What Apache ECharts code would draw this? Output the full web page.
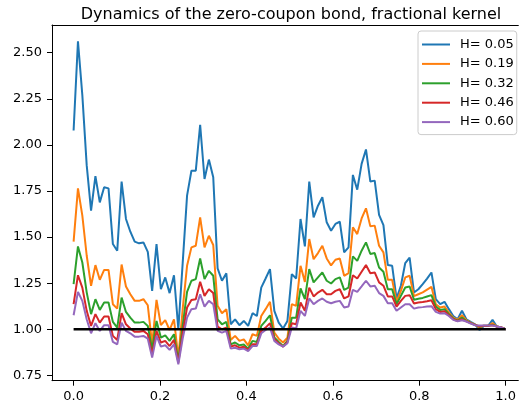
<!DOCTYPE html>
<html>
<head>
<meta charset="utf-8">
<script src="https://cdn.jsdelivr.net/npm/echarts@6/dist/echarts.min.js"></script>
<style>html,body{margin:0;padding:0;background:#fff}#c{width:519px;height:407px}</style>
</head>
<body>
<div id="c"></div>
<script>
const chartTitle = "Dynamics of the zero-coupon bond, fractional kernel";
const seriesNames = ["H= 0.05", "H= 0.19", "H= 0.32", "H= 0.46", "H= 0.60"];
const seriesColors = ["#1f77b4", "#ff7f0e", "#2ca02c", "#d62728", "#9467bd"];
const xTickValues = [0, 0.2, 0.4, 0.6, 0.8, 1.0];
const yTickValues = [0.75, 1.0, 1.25, 1.5, 1.75, 2.0, 2.25, 2.5];

const timeGrid = [0,0.0101,0.0202,0.0303,0.0404,0.0505,0.0606,0.0707,0.0808,0.0909,
0.1010,0.1111,0.1212,0.1313,0.1414,0.1515,0.1616,0.1717,0.1818,0.1919,
0.2020,0.2121,0.2222,0.2323,0.2424,0.2525,0.2626,0.2727,0.2828,0.2929,
0.3030,0.3131,0.3232,0.3333,0.3434,0.3535,0.3636,0.3737,0.3838,0.3939,
0.4040,0.4141,0.4242,0.4343,0.4444,0.4545,0.4646,0.4747,0.4848,0.4949,
0.5050,0.5151,0.5252,0.5353,0.5454,0.5555,0.5656,0.5757,0.5858,0.5959,
0.6060,0.6161,0.6262,0.6363,0.6464,0.6565,0.6666,0.6767,0.6868,0.6969,
0.7070,0.7171,0.7272,0.7373,0.7474,0.7575,0.7676,0.7777,0.7878,0.7979,
0.8080,0.8181,0.8282,0.8383,0.8484,0.8585,0.8686,0.8787,0.8888,0.8989,
0.9090,0.9191,0.9292,0.9393,0.9494,0.9595,0.9696,0.9797,0.9898,1];

const bondH005 = [2.078,2.562,2.27,1.89,1.643,1.830,1.688,1.770,1.764,1.462,
1.426,1.801,1.598,1.529,1.475,1.466,1.471,1.420,1.208,1.462,
1.217,1.281,1.196,1.293,1.0,1.36,1.725,1.86,1.86,2.109,
1.815,1.92,1.824,1.33,1.263,1.303,1.027,1.054,1.022,1.045,
1.018,1.087,1.072,1.226,1.275,1.326,1.1,1.036,1.004,1.045,
1.299,1.275,1.598,1.449,1.801,1.607,1.67,1.716,1.58,1.534,
1.571,1.583,1.417,1.444,1.837,1.757,1.897,1.975,1.801,1.806,
1.62,1.565,1.348,1.344,1.167,1.236,1.359,1.389,1.199,1.217,
1.245,1.275,1.308,1.163,1.136,1.149,1.109,1.072,1.054,1.1,
1.054,1.04,1.027,0.996,1.018,1.018,1.051,1.014,1.009,1.0];

const bondH019 = [1.475,1.764,1.616,1.40,1.236,1.348,1.268,1.322,1.322,1.136,
1.112,1.351,1.232,1.19,1.154,1.154,1.163,1.13,0.918,1.159,
1.022,1.05,0.996,1.054,0.846,1.11,1.344,1.444,1.453,1.607,
1.444,1.507,1.457,1.127,1.087,1.109,0.942,0.964,0.937,0.945,
0.913,0.973,0.964,1.072,1.109,1.149,0.982,0.949,0.928,0.955,
1.136,1.127,1.344,1.257,1.489,1.38,1.413,1.453,1.384,1.346,
1.377,1.384,1.29,1.304,1.553,1.516,1.601,1.656,1.558,1.562,
1.453,1.417,1.268,1.268,1.149,1.208,1.281,1.29,1.18,1.19,
1.20,1.215,1.23,1.136,1.118,1.123,1.09,1.063,1.051,1.076,
1.049,1.036,1.025,1.009,1.018,1.018,1.033,1.015,1.01,1.0];

const bondH032 = [1.245,1.449,1.362,1.2,1.082,1.163,1.105,1.145,1.145,1.04,
1.009,1.172,1.094,1.063,1.036,1.036,1.04,1.018,0.891,1.045,
0.955,0.967,0.937,0.973,0.828,1.02,1.203,1.263,1.272,1.384,
1.272,1.317,1.29,1.054,1.027,1.04,0.918,0.928,0.913,0.917,
0.895,0.937,0.931,1.018,1.045,1.076,0.955,0.931,0.909,0.937,
1.063,1.063,1.221,1.163,1.326,1.254,1.281,1.308,1.263,1.248,
1.272,1.281,1.214,1.226,1.395,1.371,1.426,1.471,1.408,1.413,
1.335,1.312,1.217,1.217,1.136,1.181,1.226,1.232,1.16,1.165,
1.17,1.178,1.185,1.123,1.105,1.109,1.082,1.058,1.047,1.063,
1.045,1.034,1.024,1.014,1.019,1.019,1.025,1.015,1.01,1.0];

const bondH046 = [1.136,1.293,1.226,1.1,1.018,1.082,1.036,1.069,1.069,0.964,
0.942,1.087,1.027,1.004,0.986,0.986,0.991,0.973,0.864,0.991,
0.928,0.937,0.909,0.942,0.819,0.98,1.118,1.159,1.163,1.257,
1.181,1.217,1.196,1.014,1.0,1.009,0.906,0.913,0.9,0.905,
0.888,0.918,0.918,0.991,1.009,1.033,0.946,0.924,0.906,0.931,
1.033,1.027,1.145,1.1,1.226,1.178,1.199,1.214,1.19,1.19,
1.208,1.217,1.167,1.178,1.293,1.275,1.312,1.348,1.304,1.308,
1.254,1.236,1.178,1.178,1.123,1.154,1.181,1.185,1.14,1.145,
1.148,1.152,1.157,1.109,1.094,1.098,1.076,1.054,1.045,1.054,
1.043,1.033,1.024,1.016,1.019,1.019,1.022,1.015,1.01,1.0];

const bondH060 = [1.076,1.203,1.154,1.054,0.978,1.033,0.991,1.022,1.022,0.931,
0.918,1.036,0.991,0.978,0.96,0.96,0.964,0.949,0.846,0.964,
0.906,0.913,0.888,0.918,0.81,0.95,1.063,1.109,1.112,1.19,
1.123,1.154,1.136,0.991,0.982,0.991,0.895,0.9,0.891,0.895,
0.882,0.909,0.909,0.978,0.996,1.009,0.937,0.918,0.906,0.924,
1.009,1.004,1.1,1.072,1.167,1.136,1.154,1.167,1.149,1.141,
1.149,1.154,1.118,1.123,1.214,1.203,1.232,1.263,1.232,1.236,
1.196,1.181,1.141,1.141,1.1,1.118,1.136,1.136,1.112,1.118,
1.12,1.123,1.125,1.094,1.085,1.087,1.072,1.051,1.043,1.049,
1.042,1.031,1.022,1.02,1.02,1.02,1.02,1.015,1.01,1.0];

const refT = [0, 1];
const refLevel = [1, 1];

const allSeries = [bondH005, bondH019, bondH032, bondH046, bondH060];
const FONT = "DejaVu Sans";

const chart = echarts.init(document.getElementById('c'), null, {renderer: 'canvas'});

const series = allSeries.map((vals, k) => ({
  name: seriesNames[k],
  type: 'line',
  data: vals.map((v, i) => [timeGrid[i], v]),
  showSymbol: false,
  symbol: 'none',
  lineStyle: {width: 2, color: seriesColors[k]},
  itemStyle: {color: seriesColors[k]},
  z: 2 + k
}));
series.push({
  name: 'ref',
  type: 'line',
  data: refT.map((t, i) => [t, refLevel[i]]),
  showSymbol: false,
  symbol: 'none',
  lineStyle: {width: 2.3, color: '#000'},
  itemStyle: {color: '#000'},
  z: 10
});

const xMin = -0.05, xMax = 1.0293, yMin = 0.721, yMax = 2.650;

chart.setOption({
  animation: false,
  backgroundColor: '#fff',
  title: {
    text: chartTitle,
    left: 286,
    top: 2,
    textAlign: 'center',
    textStyle: {fontFamily: FONT, fontSize: 16, fontWeight: 'normal', color: '#000'}
  },
  legend: {
    data: seriesNames,
    orient: 'vertical',
    left: 418,
    top: 31,
    padding: [7, 3, 6, 4],
    itemGap: 6.4,
    itemWidth: 28,
    itemHeight: 2,
    icon: 'rect',
    backgroundColor: 'rgba(255,255,255,0.8)',
    borderColor: '#cccccc',
    borderWidth: 1,
    borderRadius: 3,
    textStyle: {fontFamily: FONT, fontSize: 13, color: '#000', padding: [0, 0, 0, 5]}
  },
  grid: {left: 52, right: 0, top: 25, bottom: 26.3, containLabel: false},
  xAxis: [{
    type: 'value', min: xMin, max: xMax, position: 'bottom',
    axisLine: {show: true, onZero: false, lineStyle: {color: '#000', width: 1}},
    axisTick: {show: true, inside: false, length: 5, lineStyle: {color: '#000', width: 1}, customValues: xTickValues},
    axisLabel: {show: true, margin: 9, color: '#000', fontFamily: FONT, fontSize: 13,
      customValues: xTickValues, formatter: v => v.toFixed(1)},
    splitLine: {show: false}
  }, {
    type: 'value', min: xMin, max: xMax, position: 'top',
    axisLine: {show: true, onZero: false, lineStyle: {color: '#000', width: 1}},
    axisTick: {show: false}, axisLabel: {show: false}, splitLine: {show: false}
  }],
  yAxis: {
    type: 'value', min: yMin, max: yMax,
    axisLine: {show: true, onZero: false, lineStyle: {color: '#000', width: 1}},
    axisTick: {show: true, inside: false, length: 5, lineStyle: {color: '#000', width: 1}, customValues: yTickValues},
    axisLabel: {show: true, margin: 10, color: '#000', fontFamily: FONT, fontSize: 13,
      customValues: yTickValues, formatter: v => v.toFixed(2)},
    splitLine: {show: false}
  },
  series: series
});
</script>
</body>
</html>
